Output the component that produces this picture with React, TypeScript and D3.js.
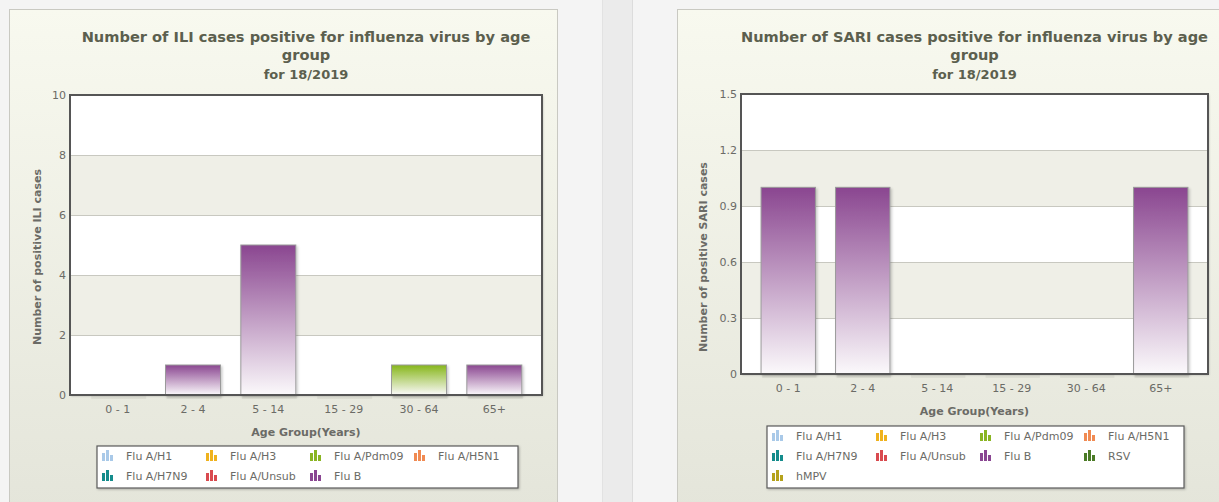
import React, { useEffect, useRef } from "react";
import * as d3 from "d3";

const ageGroups = ["0 - 1", "2 - 4", "5 - 14", "15 - 29", "30 - 64", "65+"];

// ILI chart values (stacked by virus)
const iliPdm09 = [0, 0, 0, 0, 1, 0];
const iliFluB = [0, 1, 5, 0, 0, 1];
const iliTicks = [0, 2, 4, 6, 8, 10];

// SARI chart values
const sariFluB = [1, 1, 0, 0, 0, 1];
const sariTicks = [0, 0.3, 0.6, 0.9, 1.2, 1.5];

const iliLegend = ["Flu A/H1", "Flu A/H3", "Flu A/Pdm09", "Flu A/H5N1", "Flu A/H7N9", "Flu A/Unsub", "Flu B"];
const sariLegend = [...iliLegend, "RSV", "hMPV"];

const virusColors = {
  "Flu A/H1": "#a9c9e8",
  "Flu A/H3": "#efb21e",
  "Flu A/Pdm09": "#8ab522",
  "Flu A/H5N1": "#f08a52",
  "Flu A/H7N9": "#148c8c",
  "Flu A/Unsub": "#d94a4f",
  "Flu B": "#8a4692",
  RSV: "#4b7b26",
  hMPV: "#b5a21c",
};

const FONT = "'DejaVu Sans', Verdana, sans-serif";
const TITLE_COLOR = "#5c5f4e";
const LABEL_COLOR = "#6b6b66";

type PanelOpts = {
  id: string;
  titleLines: string[];
  subtitle: string;
  plot: { x0: number; x1: number; y0: number; y1: number };
  ticks: number[];
  tickFmt: (d: number) => string;
  series: { name: string; values: number[] }[];
  yTitle: string;
  yTitleX: number;
  yTitleY: number;
  xLabelY: number;
  xTitleY: number;
  legend: { x: number; y: number; w: number; h: number; names: string[] };
};

function drawPanel(svg: d3.Selection<SVGSVGElement, unknown, null, undefined>, o: PanelOpts) {
  const g = svg.append("g");
  const { x0, x1, y0, y1 } = o.plot;
  const cx = (x0 + x1) / 2;

  const x = d3
    .scaleBand()
    .domain(ageGroups)
    .range([x0 + 10, x1 - 10])
    .paddingInner(0.27)
    .paddingOuter(0.135);
  const y = d3
    .scaleLinear()
    .domain([0, d3.max(o.ticks) as number])
    .range([y1, y0]);

  // titles
  o.titleLines.forEach((t, i) => {
    g.append("text")
      .attr("x", cx)
      .attr("y", 42 + i * 18)
      .attr("text-anchor", "middle")
      .attr("font-family", FONT)
      .attr("font-weight", "bold")
      .attr("font-size", 14.6)
      .attr("fill", TITLE_COLOR)
      .text(t);
  });
  g.append("text")
    .attr("x", cx)
    .attr("y", 79)
    .attr("text-anchor", "middle")
    .attr("font-family", FONT)
    .attr("font-weight", "bold")
    .attr("font-size", 13)
    .attr("fill", TITLE_COLOR)
    .text(o.subtitle);

  // plot background + alternating bands
  g.append("rect")
    .attr("x", x0)
    .attr("y", y0)
    .attr("width", x1 - x0)
    .attr("height", y1 - y0)
    .attr("fill", "#fff")
    .attr("filter", "url(#shadow)");
  for (let i = 0; i < o.ticks.length - 1; i++) {
    if (i % 2 === 1) {
      g.append("rect")
        .attr("x", x0)
        .attr("y", y(o.ticks[i + 1]))
        .attr("width", x1 - x0)
        .attr("height", y(o.ticks[i]) - y(o.ticks[i + 1]))
        .attr("fill", "#efefe7");
    }
  }
  g.append("g")
    .selectAll("line")
    .data(o.ticks.slice(1, -1))
    .join("line")
    .attr("x1", x0)
    .attr("x2", x1)
    .attr("y1", (d) => Math.round(y(d)) + 0.5)
    .attr("y2", (d) => Math.round(y(d)) + 0.5)
    .attr("stroke", "#c8c8c0")
    .attr("stroke-width", 1);

  // y axis labels
  const yAxis = g
    .append("g")
    .attr("transform", `translate(${x0 - 4},0)`)
    .call(d3.axisLeft(y).tickValues(o.ticks).tickFormat((d) => o.tickFmt(+d)).tickSize(0).tickPadding(0));
  yAxis.select(".domain").remove();
  yAxis
    .selectAll("text")
    .attr("font-family", FONT)
    .attr("font-size", 11)
    .attr("fill", LABEL_COLOR)
    .attr("dy", "0.32em");

  // baseline shadows for each column
  g.append("g")
    .selectAll("rect")
    .data(ageGroups)
    .join("rect")
    .attr("x", (d) => (x(d) as number) + 1)
    .attr("y", y1 + 1)
    .attr("width", x.bandwidth())
    .attr("height", 3)
    .attr("fill", "rgba(0,0,0,0.05)");

  // stacked bars
  const rows = ageGroups.map((a, i) => {
    const r: Record<string, number | string> = { age: a };
    o.series.forEach((s) => (r[s.name] = s.values[i]));
    return r;
  });
  const stacked = d3.stack<Record<string, number | string>>().keys(o.series.map((s) => s.name))(rows as any);
  stacked.forEach((layer) => {
    const gradId = `${o.id}-${layer.key.replace(/[^a-z0-9]/gi, "")}`;
    g.append("g")
      .selectAll("rect")
      .data(layer.filter((d) => d[1] - d[0] > 0))
      .join("rect")
      .attr("x", (d) => x(d.data.age as string) as number)
      .attr("y", (d) => y(d[1]))
      .attr("width", x.bandwidth())
      .attr("height", (d) => y(d[0]) - y(d[1]))
      .attr("fill", `url(#${gradId})`)
      .attr("stroke", "#9a9a9a")
      .attr("stroke-width", 1)
      .attr("filter", "url(#barShadow)");
  });

  // plot border
  g.append("rect")
    .attr("x", x0)
    .attr("y", y0)
    .attr("width", x1 - x0)
    .attr("height", y1 - y0)
    .attr("fill", "none")
    .attr("stroke", "#555")
    .attr("stroke-width", 2);

  // x axis labels
  const xAxis = g
    .append("g")
    .attr("transform", `translate(0,${o.xLabelY})`)
    .call(d3.axisBottom(x).tickSize(0).tickPadding(0));
  xAxis.select(".domain").remove();
  xAxis
    .selectAll("text")
    .attr("font-family", FONT)
    .attr("font-size", 11)
    .attr("fill", LABEL_COLOR)
    .attr("dy", "0.32em");

  g.append("text")
    .attr("x", cx)
    .attr("y", o.xTitleY)
    .attr("dy", "0.35em")
    .attr("text-anchor", "middle")
    .attr("font-family", FONT)
    .attr("font-weight", "bold")
    .attr("font-size", 11)
    .attr("fill", LABEL_COLOR)
    .text("Age Group(Years)");

  g.append("text")
    .attr("transform", `translate(${o.yTitleX},${o.yTitleY}) rotate(-90)`)
    .attr("dy", "0.35em")
    .attr("text-anchor", "middle")
    .attr("font-family", FONT)
    .attr("font-weight", "bold")
    .attr("font-size", 11)
    .attr("fill", LABEL_COLOR)
    .text(o.yTitle);

  // legend
  const L = o.legend;
  g.append("rect")
    .attr("x", L.x)
    .attr("y", L.y)
    .attr("width", L.w)
    .attr("height", L.h)
    .attr("fill", "#fff")
    .attr("stroke", "#5a5a5a")
    .attr("stroke-width", 1.2)
    .attr("filter", "url(#shadow)");
  const items = g
    .append("g")
    .selectAll("g")
    .data(L.names)
    .join("g")
    .attr("transform", (_, i) => `translate(${L.x + 5 + (i % 4) * 104},${L.y + 10 + Math.floor(i / 4) * 20})`);
  const iconBars = [
    { dx: 0, h: 8 },
    { dx: 4, h: 11 },
    { dx: 8, h: 6 },
  ];
  iconBars.forEach((b) => {
    items
      .append("rect")
      .attr("x", b.dx)
      .attr("y", 5 - b.h)
      .attr("width", 3)
      .attr("height", b.h)
      .attr("fill", (d) => (virusColors as any)[d]);
  });
  items
    .append("text")
    .attr("x", 24)
    .attr("y", 0)
    .attr("dy", "0.35em")
    .attr("font-family", FONT)
    .attr("font-size", 11)
    .attr("fill", LABEL_COLOR)
    .text((d) => d);
}

export default function App() {
  const ref = useRef<SVGSVGElement>(null);

  useEffect(() => {
    const svg = d3.select(ref.current as SVGSVGElement);
    svg.selectAll("*").remove();

    const defs = svg.append("defs");
    const panelGrad = defs
      .append("linearGradient")
      .attr("id", "panelBg")
      .attr("x1", 0)
      .attr("y1", 0)
      .attr("x2", 0)
      .attr("y2", 1);
    panelGrad.append("stop").attr("offset", "0%").attr("stop-color", "#f8f9ef");
    panelGrad.append("stop").attr("offset", "100%").attr("stop-color", "#e4e5da");

    const gradSpecs = [
      { id: "ili-FluB", top: "#8a4690" },
      { id: "ili-FluAPdm09", top: "#86b61a" },
      { id: "sari-FluB", top: "#8a4690" },
    ];
    gradSpecs.forEach((s) => {
      const lg = defs
        .append("linearGradient")
        .attr("id", s.id)
        .attr("x1", 0)
        .attr("y1", 0)
        .attr("x2", 0)
        .attr("y2", 1);
      lg.append("stop").attr("offset", "0%").attr("stop-color", s.top);
      lg.append("stop").attr("offset", "100%").attr("stop-color", "#fbf9fb");
    });

    const sh = defs.append("filter").attr("id", "shadow").attr("x", "-10%").attr("y", "-10%").attr("width", "130%").attr("height", "130%");
    sh.append("feDropShadow").attr("dx", 1).attr("dy", 1).attr("stdDeviation", 1).attr("flood-color", "#000").attr("flood-opacity", 0.25);
    const bs = defs.append("filter").attr("id", "barShadow").attr("x", "-20%").attr("y", "-20%").attr("width", "150%").attr("height", "150%");
    bs.append("feDropShadow").attr("dx", 1.5).attr("dy", 1.5).attr("stdDeviation", 1).attr("flood-color", "#000").attr("flood-opacity", 0.2);

    // page background
    svg.append("rect").attr("width", 1219).attr("height", 502).attr("fill", "#f4f4f4");
    svg.append("rect").attr("x", 603).attr("y", 0).attr("width", 29).attr("height", 502).attr("fill", "#ebebeb");
    svg.append("line").attr("x1", 632.5).attr("x2", 632.5).attr("y1", 0).attr("y2", 502).attr("stroke", "#dcdcdc");
    svg.append("line").attr("x1", 602.5).attr("x2", 602.5).attr("y1", 0).attr("y2", 502).attr("stroke", "#e2e2e2");

    // panels
    svg.append("rect").attr("x", 9.5).attr("y", 9.5).attr("width", 548).attr("height", 500).attr("fill", "url(#panelBg)").attr("stroke", "#c9c9c2");
    svg.append("rect").attr("x", 677.5).attr("y", 9.5).attr("width", 560).attr("height", 500).attr("fill", "url(#panelBg)").attr("stroke", "#c9c9c2");

    drawPanel(svg, {
      id: "ili",
      titleLines: ["Number of ILI cases positive for influenza virus by age", "group"],
      subtitle: "for 18/2019",
      plot: { x0: 70, x1: 542, y0: 95, y1: 395 },
      ticks: iliTicks,
      tickFmt: (d) => String(d),
      series: [
        { name: "Flu A/Pdm09", values: iliPdm09 },
        { name: "Flu B", values: iliFluB },
      ],
      yTitle: "Number of positive ILI cases",
      yTitleX: 37,
      yTitleY: 257,
      xLabelY: 409,
      xTitleY: 432,
      legend: { x: 97, y: 446, w: 421, h: 42, names: iliLegend },
    });

    drawPanel(svg, {
      id: "sari",
      titleLines: ["Number of SARI cases positive for influenza virus by age", "group"],
      subtitle: "for 18/2019",
      plot: { x0: 741, x1: 1208, y0: 94, y1: 374 },
      ticks: sariTicks,
      tickFmt: (d) => (d === 0 ? "0" : d.toFixed(1)),
      series: [{ name: "Flu B", values: sariFluB }],
      yTitle: "Number of positive SARI cases",
      yTitleX: 703,
      yTitleY: 257,
      xLabelY: 388,
      xTitleY: 411,
      legend: { x: 767, y: 426, w: 417, h: 62, names: sariLegend },
    });
  }, []);

  return (
    <svg
      ref={ref}
      width={1219}
      height={502}
      style={{ position: "absolute", left: 0, top: 0, display: "block" }}
    />
  );
}
